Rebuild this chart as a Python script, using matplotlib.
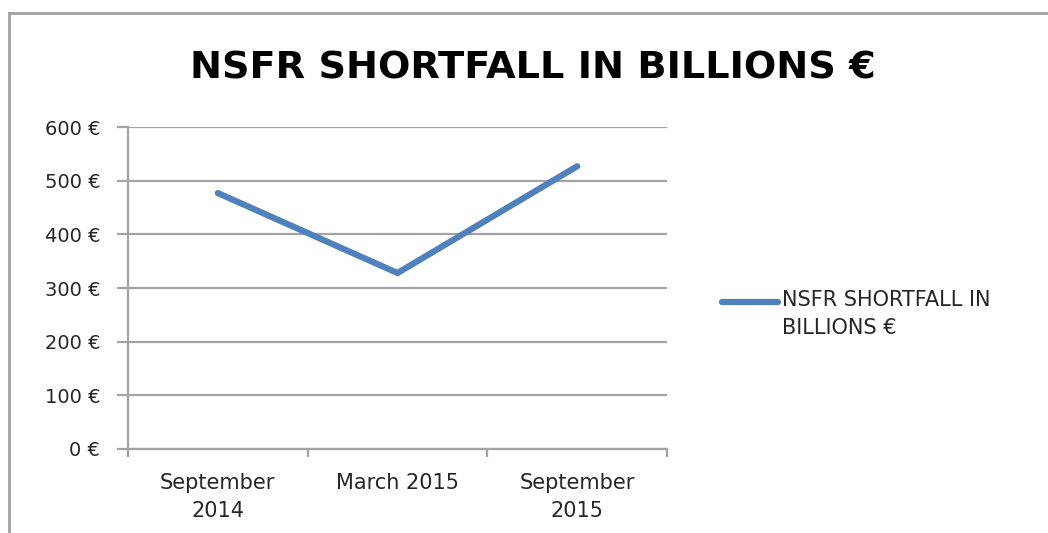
import matplotlib
matplotlib.use("Agg")
import matplotlib.pyplot as plt
from matplotlib.lines import Line2D
from matplotlib.ticker import FuncFormatter

# data
periods = ["September\n2014", "March 2015", "September\n2015"]
shortfall = [477, 328, 527]
series_name = "NSFR SHORTFALL IN\nBILLIONS €"
title = "NSFR SHORTFALL IN BILLIONS €"
y_ticks = [0, 100, 200, 300, 400, 500, 600]

line_color = "#4F81BD"
grid_color = "#a3a3a3"
text_color = "#262626"

plt.rcParams["font.family"] = ["DejaVu Sans"]

fig = plt.figure(figsize=(10.48, 5.33), dpi=100)
ax = fig.add_axes([0.1221, 0.1576, 0.5144, 0.604])

x = list(range(len(periods)))
ax.plot(x, shortfall, color=line_color, linewidth=4.5, solid_capstyle="round",
        solid_joinstyle="miter", zorder=3)

ax.set_xlim(-0.5, len(periods) - 0.5)
ax.set_ylim(0, 600)
ax.set_yticks(y_ticks)
ax.yaxis.set_major_formatter(FuncFormatter(lambda v, p: f"{int(v)} €"))
ax.set_xticks(x)
ax.set_xticklabels(periods, linespacing=1.55)
ax.set_xticks([-0.5, 0.5, 1.5, 2.5], minor=True)

ax.grid(axis="y", color=grid_color, linewidth=1.6)
ax.set_axisbelow(True)
for side in ["top", "right"]:
    ax.spines[side].set_visible(False)
for side in ["left", "bottom"]:
    ax.spines[side].set_color(grid_color)
    ax.spines[side].set_linewidth(1.6)

ax.tick_params(axis="y", length=8, width=1.6, color=grid_color, labelsize=14,
               labelcolor=text_color, pad=12)
ax.tick_params(axis="x", which="major", length=0, labelsize=15,
               labelcolor=text_color, pad=17)
ax.tick_params(axis="x", which="minor", length=6, width=1.6, color=grid_color)

fig.text(0.5085, 0.872, title, ha="center", va="center", fontsize=27.5,
         fontweight="bold", color="black")

# legend drawn by hand so the key sits on the first text line (Excel style)
fig.add_artist(Line2D([0.6885, 0.7425], [0.433, 0.433], color=line_color,
                      linewidth=4.5, solid_capstyle="round"))
fig.text(0.7465, 0.455, series_name, ha="left", va="top", fontsize=15,
         color=text_color, linespacing=1.5)

# chart frame (top and left edge only visible)
fig.add_artist(Line2D([0.0086, 0.0086], [0, 0.976], color="#a0a0a0", linewidth=2))
fig.add_artist(Line2D([0.0086, 1.0], [0.976, 0.976], color="#a0a0a0", linewidth=2))

fig.savefig("out.png", dpi=100)
